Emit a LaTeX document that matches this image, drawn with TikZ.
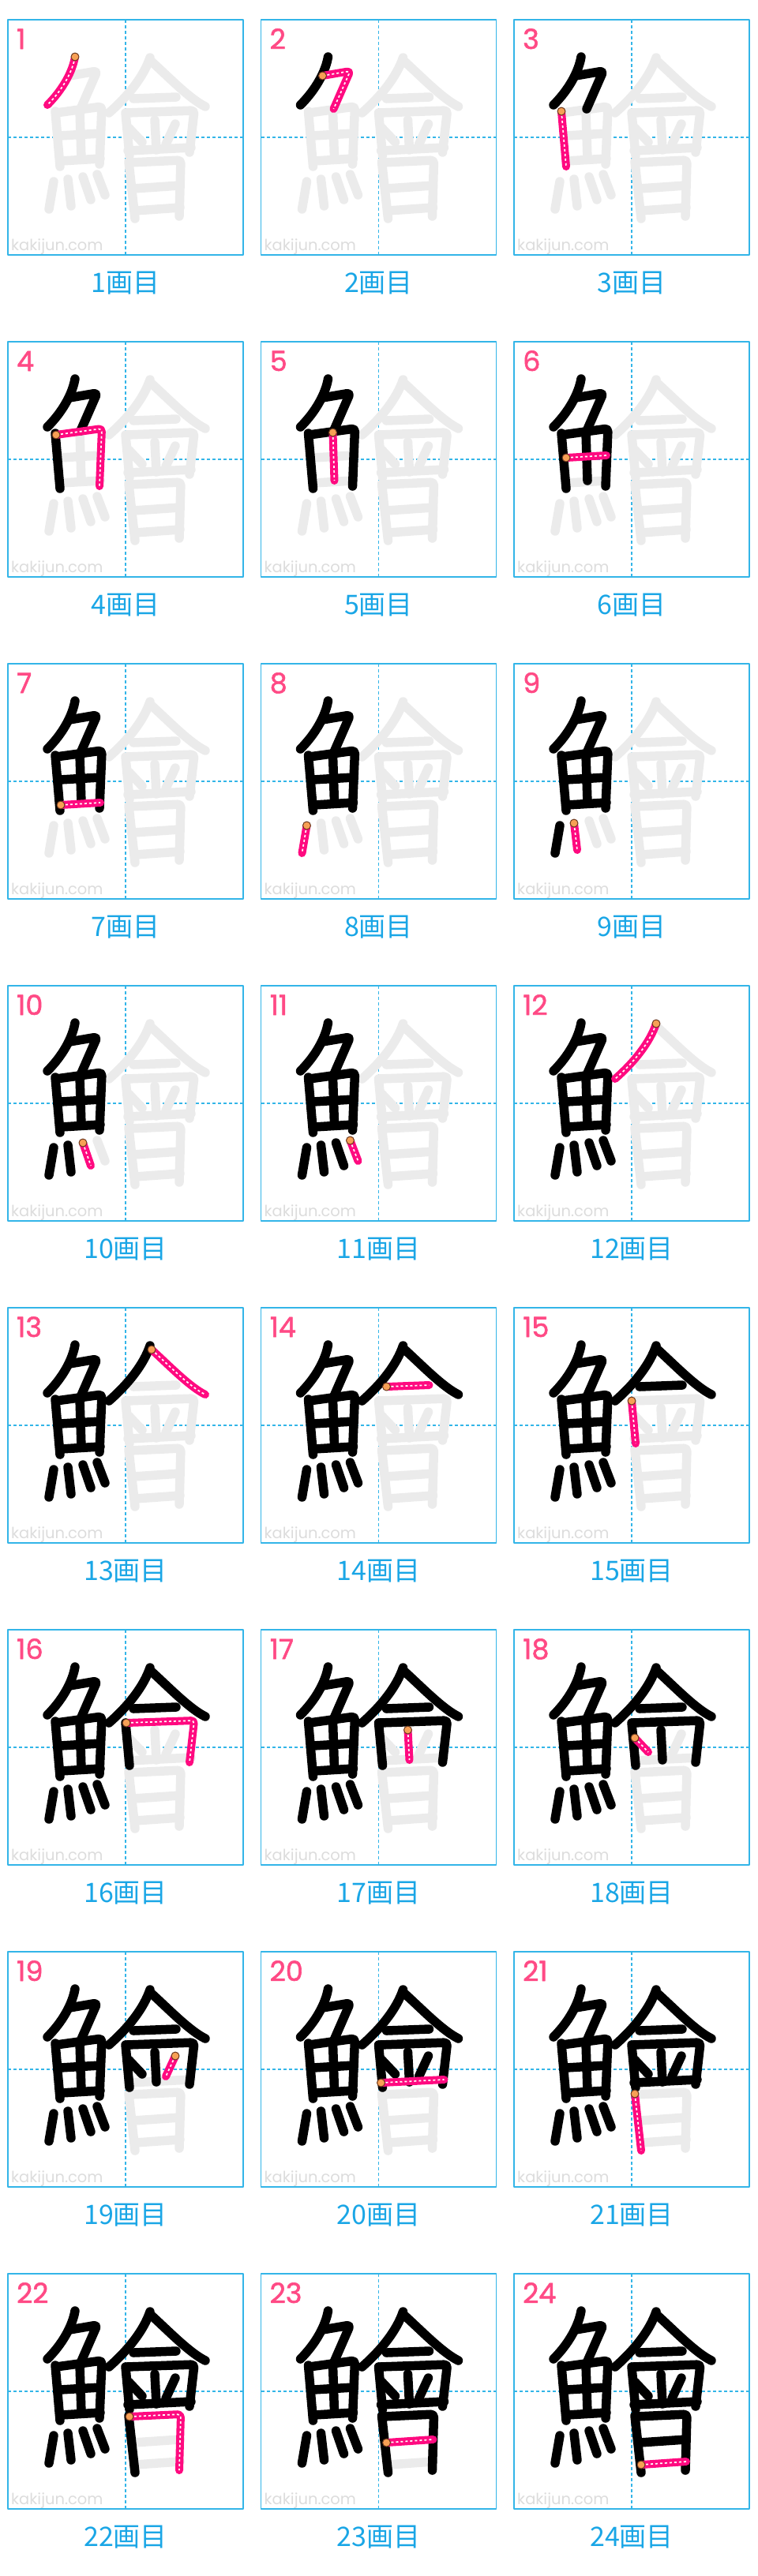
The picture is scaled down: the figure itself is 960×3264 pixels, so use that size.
\documentclass[tikz,border=0pt]{standalone}
\usepackage{fontspec}
\setmainfont{Noto Sans CJK JP}
\newfontfamily\numfont{Poppins}
\newfontfamily\numboldfont{Poppins}[FakeBold=1.6]
\definecolor{kblue}{HTML}{33B5E8}
\definecolor{kcap}{HTML}{1AA6E6}
\definecolor{kred}{HTML}{FF4A85}
\definecolor{kpink}{HTML}{FF0A80}
\definecolor{kgray}{HTML}{EBEBEB}
\definecolor{kmark}{HTML}{DCDCDC}
\definecolor{korange}{HTML}{F7A055}
\definecolor{kbrown}{HTML}{6B3A1E}
% strokes of the kanji, panel units (298 wide, y down): start point, rest of path
\newcommand\defstroke[3]{\expandafter\def\csname ks#1\endcsname{#2 #3}\expandafter\def\csname kb#1\endcsname{#2}}
\defstroke{1}{(85,47)}{.. controls (82,65) and (70,88) .. (50,108)}
\defstroke{2}{(78,71)}{-- (113,65) -- (92,113)}
\defstroke{3}{(60,116)}{-- (66,186)}
\defstroke{4}{(61,118)}{-- (119,110) -- (116,183)}
\defstroke{5}{(91,115)}{-- (93,176)}
\defstroke{6}{(66,147)}{-- (117,144)}
\defstroke{7}{(67,179)}{-- (117,176)}
\defstroke{8}{(58,205)}{-- (52,240)}
\defstroke{9}{(76,202)}{-- (80,236)}
\defstroke{10}{(95,199)}{-- (105,228)}
\defstroke{11}{(113,196)}{-- (123,222)}
\defstroke{12}{(180,48)}{.. controls (172,72) and (152,97) .. (128,118)}
\defstroke{13}{(182,53)}{.. controls (205,74) and (230,100) .. (250,110)}
\defstroke{14}{(159,100)}{-- (213,98)}
\defstroke{15}{(149,118)}{-- (154,172)}
\defstroke{16}{(150,118)}{-- (236,115) -- (230,168)}
\defstroke{17}{(186,127)}{-- (188,165)}
\defstroke{18}{(153,137)}{-- (170,155)}
\defstroke{19}{(212,132)}{-- (200,158)}
\defstroke{20}{(152,166)}{-- (232,162)}
\defstroke{21}{(153,180)}{-- (161,252)}
\defstroke{22}{(154,181)}{-- (219,178) -- (217,249)}
\defstroke{23}{(159,214)}{-- (218,210)}
\defstroke{24}{(161,242)}{-- (218,238)}

\begin{document}
\begin{tikzpicture}[x=1pt,y=-1pt,line cap=round,line join=round,
  frame/.style={draw=kblue,line width=1.6pt},
  guide/.style={draw=kblue,line width=1.3pt,dash pattern=on 4pt off 3pt,line cap=butt},
  todo/.style={draw=kgray,line width=11.5pt,rounded corners=4pt},
  done/.style={draw=black,line width=11.5pt,rounded corners=4pt},
  now/.style={draw=kpink,line width=10pt,rounded corners=4pt},
  trace/.style={draw=white,line width=1.7pt,dash pattern=on 3pt off 3pt,line cap=butt,rounded corners=4pt},
  startdot/.style={fill=korange,draw=kbrown,line width=1pt},
  num/.style={anchor=base west,inner sep=0pt,text=kred,font=\numboldfont\fontsize{35pt}{35pt}\selectfont},
  wmark/.style={anchor=base west,inner sep=0pt,text=kmark,font=\numfont\fontsize{19.5pt}{19.5pt}\selectfont},
  captext/.style={anchor=base,inner sep=0pt,text=kcap,font=\fontsize{34pt}{34pt}\selectfont}]
\useasboundingbox (0,0) rectangle (960,3264);
\foreach \n [evaluate=\n as \row using {int((\n-1)/3)},evaluate=\n as \col using {int(mod(\n-1,3))}] in {1,...,24}{
\begin{scope}[shift={(10+320.5*\col,25+408*\row)}]
\draw[guide] (149,0) -- (149,298) (0,149) -- (298,149);
\node[wmark] (mark\n) at (4,292) {kakijun.com};
\foreach \s in {1,...,24}{\ifnum\s>\n\relax\draw[todo] \csname ks\s\endcsname;\fi}
\foreach \s in {1,...,24}{\ifnum\s<\n\relax\draw[done] \csname ks\s\endcsname;\fi}
\draw[now] \csname ks\n\endcsname;
\draw[trace] \csname ks\n\endcsname;
\draw[startdot] \csname kb\n\endcsname circle[radius=5pt];
\draw[frame] (0,0) rectangle (298,298);
\node[num] (num\n) at (11,37) {\n};
\node[captext] (cap\n) at (149,345) {\n{}画目};
\end{scope}}
\end{tikzpicture}
\end{document}
